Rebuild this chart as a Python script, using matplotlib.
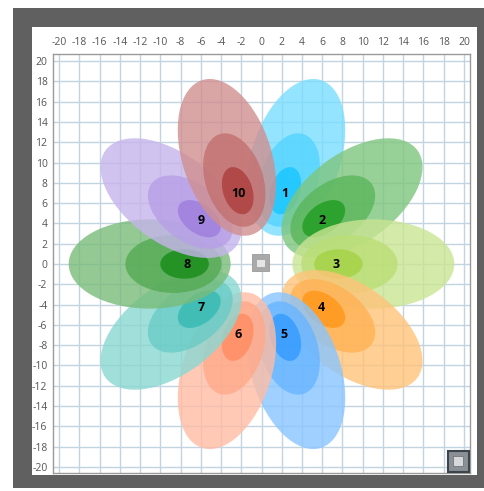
import matplotlib.pyplot as plt
import numpy as np
from matplotlib.colors import to_rgb
from matplotlib.patches import Ellipse, Rectangle

W, H = 485, 491

# petal data: label, direction (deg), base colour
labels = ['1', '2', '3', '4', '5', '6', '7', '8', '9', '10']
angles = [72, 36, 0, -36, -72, -108, -144, 180, 144, 108]
colors = ['deepskyblue', '#0a920a', 'yellowgreen', 'darkorange', 'dodgerblue',
          'coral', 'lightseagreen', 'green', 'mediumpurple', 'brown']

# three rings per petal (outer -> inner): distance of centre, semi-major, semi-minor
ring_dist = [11.05, 8.7, 7.6]
ring_a = [8.0, 4.75, 2.4]
ring_b = [4.4, 2.85, 1.45]
ring_tint = [0.525, 0.67, 0.91]  # share of base colour (rest white)
petal_alpha = 0.8
label_dist = 7.35

ticks = np.arange(-20, 21, 2)

plt.rcParams['font.family'] = ['Open Sans', 'DejaVu Sans']
plt.rcParams['axes.unicode_minus'] = False
fig = plt.figure(figsize=(W / 100, H / 100), dpi=100)
fig.patch.set_facecolor('white')


def px_rect(x0, y0, x1, y1, **kw):
    # rectangle given in pixel coords (top-left origin)
    r = Rectangle((x0 / W, 1 - y1 / H), (x1 - x0) / W, (y1 - y0) / H,
                  transform=fig.transFigure, **kw)
    fig.patches.append(r)
    return r


def tint(col, f):
    c = np.array(to_rgb(col))
    return tuple(f * c + (1 - f))


px_rect(13, 8, 485, 488, facecolor='#606060', edgecolor='none', zorder=-2)
px_rect(32, 27, 477, 475, facecolor='white', edgecolor='none', zorder=-1)

ax = fig.add_axes([53 / W, 1 - 473 / H, (470 - 53) / W, (473 - 54) / H])
ax.set_xlim(-20.6, 20.6)
ax.set_ylim(-20.6, 20.7)
ax.set_aspect('auto')

ax.set_xticks(ticks)
ax.set_yticks(ticks)
ax.xaxis.tick_top()
ax.tick_params(length=0, labelsize=7.5, labelcolor='#555555', pad=4)
ax.grid(True, color='#c3d4e1', linewidth=1.0)
ax.set_axisbelow(True)
for s in ax.spines.values():
    s.set_color('#9a9a9a')
    s.set_linewidth(1.0)

for lab, ang, col in zip(labels, angles, colors):
    t = np.deg2rad(ang)
    for d, a, b, f in zip(ring_dist, ring_a, ring_b, ring_tint):
        e = Ellipse((d * np.cos(t), d * np.sin(t)), 2 * a, 2 * b, angle=ang,
                    facecolor=tint(col, f), edgecolor='none', alpha=petal_alpha, zorder=2)
        ax.add_patch(e)
    ax.text(label_dist * np.cos(t), label_dist * np.sin(t), lab, ha='center', va='center',
            fontsize=9, fontweight='bold', color='black', zorder=5)

# little widget squares
px_rect(251.5, 254, 269, 271, facecolor='#a9a9a9', edgecolor='#9a9a9a', lw=0.6, zorder=5)
px_rect(256.5, 260, 265, 267, facecolor='#e6e6e6', edgecolor='none', zorder=6)
px_rect(447.5, 450.5, 469, 472, facecolor='#8a9096', edgecolor='#3c444c', lw=1.5, zorder=5)
px_rect(453, 456, 463.5, 466, facecolor='#d6d8da', edgecolor='#70767c', lw=0.6, zorder=6)

fig.savefig('out.png', dpi=100)
